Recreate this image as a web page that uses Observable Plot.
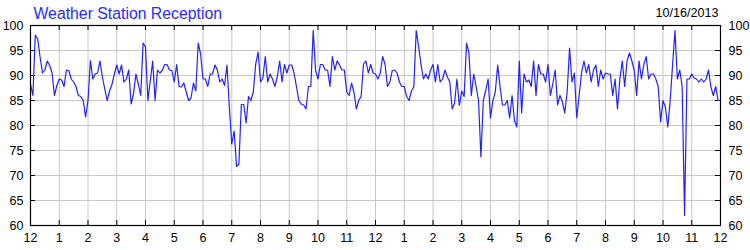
<!DOCTYPE html>
<html>
<head>
<meta charset="utf-8">
<script src="https://cdn.jsdelivr.net/npm/d3@7"></script>
<script src="https://cdn.jsdelivr.net/npm/@observablehq/plot@0.6"></script>
<style>
  html, body { margin: 0; padding: 0; background: #fff; }
  #chart { width: 750px; height: 250px; }
</style>
</head>
<body>
<div id="chart"></div>
<script>
const chartTitle = "Weather Station Reception";
const chartDate = "10/16/2013";
const sampleMinutes = 5;
// reception (%) sampled every 5 minutes over 24 hours
const reception = [
  88.3, 86.0, 98.1, 97.3, 93.7, 90.5, 91.1, 92.9, 92.0, 90.5, 86.0, 88.0,
  89.3, 89.1, 87.8, 91.1, 91.0, 89.3, 88.7, 87.8, 86.0, 85.8, 85.0, 81.7,
  85.0, 93.0, 89.3, 90.3, 90.5, 92.9, 89.7, 87.3, 85.0, 86.9, 88.2, 90.3,
  92.1, 90.3, 92.1, 88.7, 89.3, 91.1, 84.3, 86.3, 90.3, 88.3, 86.0, 96.5,
  95.7, 85.0, 89.0, 92.9, 85.0, 91.1, 90.5, 91.0, 92.2, 92.2, 91.1, 91.0,
  88.7, 92.2, 87.8, 87.7, 88.5, 86.7, 85.0, 85.5, 88.5, 86.9, 96.5, 94.3,
  89.3, 89.3, 87.8, 90.3, 90.3, 92.1, 91.1, 88.7, 89.3, 88.0, 92.1, 83.7,
  76.3, 78.9, 71.8, 72.3, 84.2, 84.2, 80.5, 85.8, 85.0, 86.7, 92.3, 94.7,
  88.7, 89.5, 93.8, 88.7, 90.3, 89.3, 87.8, 89.7, 92.9, 88.7, 92.2, 90.5,
  92.1, 92.1, 90.5, 87.8, 85.0, 84.3, 84.1, 83.3, 87.8, 87.8, 99.0, 91.0,
  89.3, 92.2, 92.2, 91.1, 91.1, 87.8, 93.8, 91.1, 92.9, 92.1, 91.1, 91.1,
  86.7, 86.0, 88.5, 86.7, 83.3, 85.0, 85.8, 92.3, 92.9, 90.5, 92.2, 90.5,
  90.3, 89.3, 90.5, 93.8, 92.2, 87.8, 88.7, 91.0, 91.1, 90.5, 88.7, 87.8,
  87.8, 85.8, 85.0, 86.9, 87.8, 99.0, 95.7, 92.2, 89.3, 90.3, 89.3, 91.1,
  92.2, 88.7, 92.2, 88.7, 89.3, 91.1, 89.7, 88.7, 83.3, 84.5, 89.3, 84.0,
  86.9, 85.8, 96.5, 94.5, 86.0, 90.3, 87.8, 85.0, 73.7, 85.0, 87.0, 89.3,
  81.5, 85.0, 86.7, 92.1, 87.7, 84.1, 84.1, 85.0, 81.5, 86.0, 81.0, 79.7,
  92.9, 82.5, 90.3, 88.7, 89.1, 87.8, 92.9, 86.0, 92.2, 90.3, 90.3, 88.7,
  92.2, 86.0, 88.3, 91.1, 84.1, 86.0, 84.7, 82.5, 86.7, 95.5, 88.7, 90.5,
  81.5, 86.0, 90.5, 92.9, 90.5, 92.2, 88.7, 91.1, 92.1, 87.8, 91.1, 89.3,
  90.5, 90.3, 90.3, 86.0, 89.3, 83.3, 89.3, 92.9, 87.8, 92.9, 94.5, 92.9,
  91.0, 86.0, 92.9, 89.3, 92.2, 93.8, 89.3, 90.3, 90.3, 89.3, 87.8, 80.7,
  85.0, 83.7, 79.7, 85.0, 92.1, 99.0, 89.3, 91.1, 87.8, 62.0, 89.3, 89.3,
  90.3, 89.5, 89.3, 88.7, 89.3, 88.7, 89.3, 91.1, 87.7, 86.0, 87.8, 85.0,
  85.0
];
const hourTicks = d3.range(0, 25);
const hourLabels = ["12","1","2","3","4","5","6","7","8","9","10","11",
                    "12","1","2","3","4","5","6","7","8","9","10","11","12"];
const yTicks = [60, 65, 70, 75, 80, 85, 90, 95, 100];

const data = reception.map((v, i) => ({hour: i * sampleMinutes / 60, value: v}));

const W = 750, H = 250;
const mL = 30, mR = 30, mT = 25, mB = 25;
const frameW = W - mL - mR, frameH = H - mT - mB;
const tickLen = 5;
const font = "'Liberation Sans', Arial, sans-serif";

const chart = Plot.plot({
  width: W,
  height: H,
  marginLeft: mL,
  marginRight: mR,
  marginTop: mT,
  marginBottom: mB,
  style: {fontFamily: font, fontSize: "12px", background: "#fff", overflow: "visible"},
  x: {type: "linear", domain: [0, 24]},
  y: {domain: [60, 100]},
  marks: [
    Plot.ruleX(hourTicks.slice(1, -1), {stroke: "#c8c8c8", strokeWidth: 1}),
    Plot.ruleY(yTicks.slice(1, -1), {stroke: "#c8c8c8", strokeWidth: 1}),
    Plot.tickX(hourTicks, {x: d => d, insetTop: frameH - tickLen, stroke: "#000"}),
    Plot.tickX(hourTicks, {x: d => d, insetBottom: frameH - tickLen, stroke: "#000"}),
    Plot.tickY(yTicks, {y: d => d, insetRight: frameW - tickLen, stroke: "#000"}),
    Plot.tickY(yTicks, {y: d => d, insetLeft: frameW - tickLen, stroke: "#000"}),
    Plot.line(data, {x: "hour", y: "value", stroke: "#2222ff", strokeWidth: 1.2}),
    Plot.frame({stroke: "#000", strokeWidth: 1.2}),
    Plot.axisY(yTicks, {anchor: "left", tickSize: 0, tickPadding: 7, label: null, fill: "#000", fontSize: 12.5}),
    Plot.axisY(yTicks, {anchor: "right", tickSize: 0, tickPadding: 8, label: null, fill: "#000", fontSize: 12.5}),
    Plot.axisX(hourTicks, {anchor: "bottom", tickSize: 0, tickPadding: 8, label: null, fill: "#000", fontSize: 12.5,
      tickFormat: d => hourLabels[d]}),
    Plot.text([chartTitle], {frameAnchor: "top-left", textAnchor: "start", lineAnchor: "bottom",
      dx: 3, dy: -7, fill: "#2a2aff", fontSize: 15.8}),
    Plot.text([chartDate], {frameAnchor: "top-right", textAnchor: "end", lineAnchor: "bottom",
      dx: -2, dy: -9, fill: "#000", fontSize: 12.6})
  ]
});
document.getElementById("chart").appendChild(chart);
</script>
</body>
</html>
